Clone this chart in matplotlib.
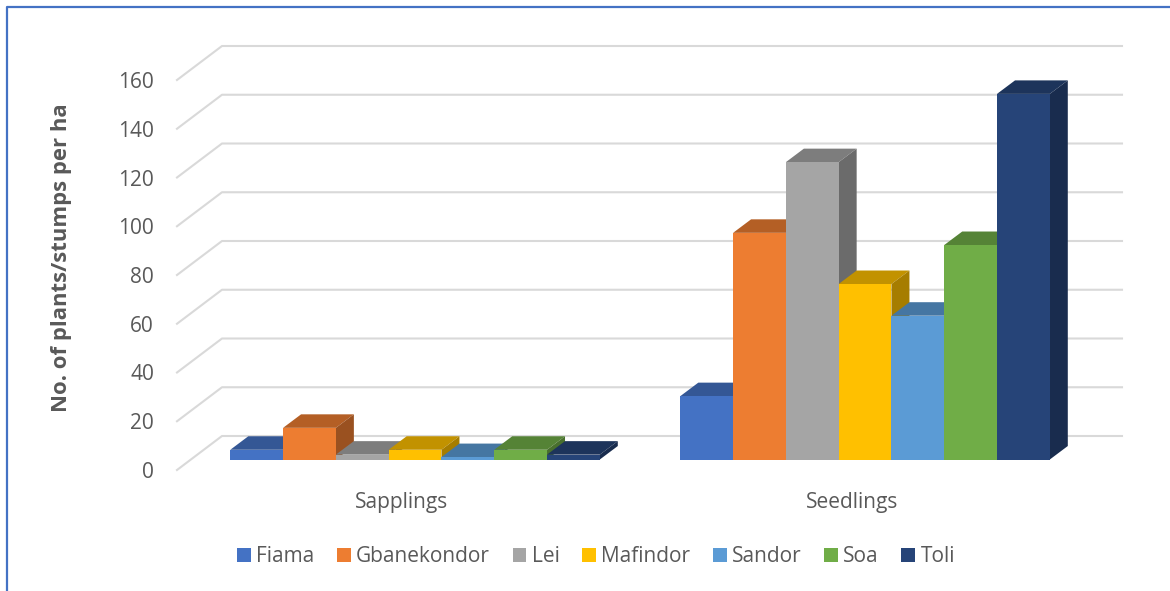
import numpy as np
import matplotlib
matplotlib.use('Agg')
import matplotlib.pyplot as plt
from matplotlib.lines import Line2D
from matplotlib.patches import Polygon

plt.rcParams['font.family'] = ['Open Sans', 'DejaVu Sans']

categories = ['Sapplings', 'Seedlings']
regions = ['Fiama', 'Gbanekondor', 'Lei', 'Mafindor', 'Sandor', 'Soa', 'Toli']
sapplings = [4, 13, 2, 4, 1, 4, 2]
seedlings = [26, 93, 122, 72, 59, 88, 150]
colors = ['#4472C4', '#ED7D31', '#A5A5A5', '#FFC000', '#5B9BD5', '#70AD47', '#264478']
yticks = np.arange(0, 161, 20)

text_color = '#595959'
grid_color = '#d9d9d9'

# pseudo 3D depth, in axis units (x = categories, y = value)
floor_dx, floor_dy = 0.1, 13.95
bar_dx, bar_dy = 0.04, 5.54
shift_x, shift_y = 0.029, 4.3
bar_w = 0.1173

W, H = 1170, 591


def shade(color, factor):
    rgb = np.array(matplotlib.colors.to_rgb(color))
    return tuple(rgb * factor)


fig = plt.figure(figsize=(W / 100, H / 100), dpi=100)
ax = fig.add_axes([177 / W, 1 - 470 / H, 900 / W, 390 / H])
ax.set_xlim(-0.5, 1.5)
ax.set_ylim(0, 160)
for spine in ax.spines.values():
    spine.set_visible(False)

# gridlines run up the side wall and then along the back wall
for v in yticks:
    ax.plot([-0.5, -0.5 + floor_dx, 1.5 + floor_dx],
            [v, v + floor_dy, v + floor_dy],
            color=grid_color, lw=1.5, clip_on=False, zorder=1)

handles = []
for i, region in enumerate(regions):
    vals = np.array([sapplings[i], seedlings[i]])
    xs = np.arange(len(categories)) + shift_x + (i - 3) * bar_w
    z = 2 + i
    c = colors[i]
    for x, v in zip(xs, vals):
        x0, x1 = x - bar_w / 2, x + bar_w / 2
        y0, y1 = shift_y, shift_y + v
        top = [(x0, y1), (x1, y1), (x1 + bar_dx, y1 + bar_dy), (x0 + bar_dx, y1 + bar_dy)]
        side = [(x1, y0), (x1 + bar_dx, y0 + bar_dy), (x1 + bar_dx, y1 + bar_dy), (x1, y1)]
        ax.add_patch(Polygon(top, closed=True, fc=shade(c, 0.76), ec='none', clip_on=False, zorder=z))
        ax.add_patch(Polygon(side, closed=True, fc=shade(c, 0.65), ec='none', clip_on=False, zorder=z))
    b = ax.bar(xs, vals, bar_w, bottom=shift_y, color=c, label=region, clip_on=False, zorder=z + 0.5)
    handles.append(b)

ax.set_xticks(range(len(categories)))
ax.set_xticklabels(categories, fontsize=15, color=text_color)
ax.set_yticks(yticks)
ax.set_yticklabels(yticks, fontsize=15, color=text_color)
ax.tick_params(axis='both', length=0)
ax.tick_params(axis='x', pad=16)
ax.tick_params(axis='y', pad=16.5)

fig.text(61.5 / W, 1 - 258 / H, 'No. of plants/stumps per ha', rotation=90, fontsize=15.9,
         fontweight='bold', color=text_color, ha='center', va='center')

fig.legend(handles=handles, labels=regions, loc='center', bbox_to_anchor=(596 / W, 1 - 557 / H),
           ncol=7, frameon=False, fontsize=15, labelcolor=text_color,
           handlelength=0.67, handleheight=0.67, handletextpad=0.25, columnspacing=1.08)

# blue chart border, top and left only
fig.add_artist(Line2D([7 / W, 7 / W, 1], [0, 1 - 7 / H, 1 - 7 / H], color='#4472C4', lw=1.6))

fig.savefig('out.png', dpi=100)
